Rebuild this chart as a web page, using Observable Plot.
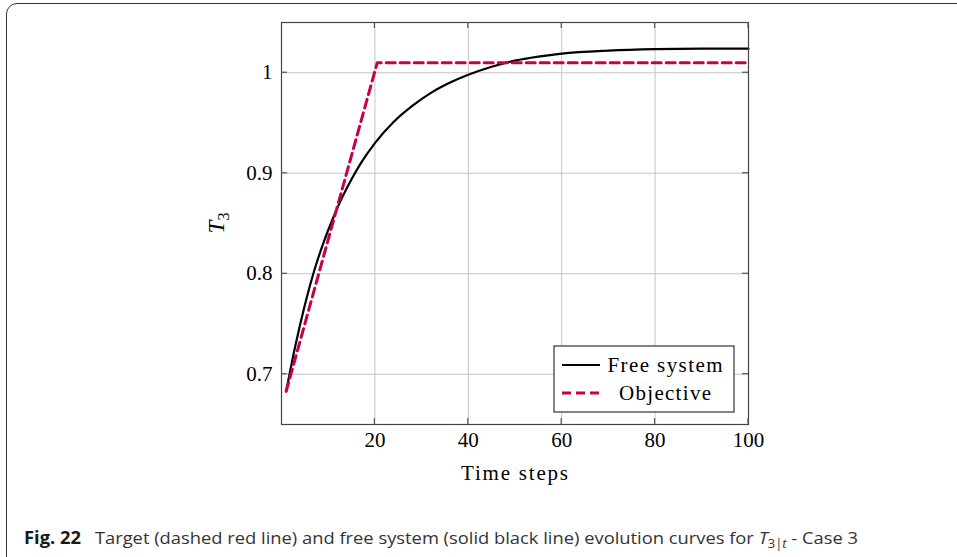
<!DOCTYPE html>
<html>
<head>
<meta charset="utf-8">
<script src="https://cdn.jsdelivr.net/npm/d3@7"></script>
<script src="https://cdn.jsdelivr.net/npm/@observablehq/plot@0.6"></script>
<style>
  html, body { margin: 0; padding: 0; background: #fff; }
  #wrap { position: relative; width: 957px; height: 557px; overflow: hidden; background: #fff; }
  #border { position: absolute; left: 6px; top: 3px; width: 1000px; height: 600px;
            border: 1.4px solid #333; border-radius: 11px; box-sizing: border-box; }
  #chart { position: absolute; left: 0; top: 0; }
  #caption { position: absolute; left: 24px; top: 526px; white-space: nowrap;
             font-family: "Open Sans", sans-serif; font-size: 17px; color: #333;
             transform-origin: 0 0; }
  #caption b { color: #1a1a1a; font-weight: 700; }
  #caption sub { font-size: 12px; vertical-align: -4px; }
</style>
</head>
<body>
<div id="wrap">
  <div id="border"></div>
  <div id="chart"></div>
  <div id="caption"><b>Fig. 22</b>&ensp;&nbsp;Target (dashed red line) and free system (solid black line) evolution curves for <i>T</i><sub>3|<i>t</i></sub> - Case 3</div>
</div>
<script>
// ---- data ----
const xTicks = [20, 40, 60, 80, 100];
const yTicks = [0.7, 0.8, 0.9, 1];
const xDomain = [0, 100];
const yDomain = [0.65, 1.05];

const freeSteps = [1, 3, 5, 7, 9, 11, 13, 15, 17, 20, 24, 28, 32, 36, 40, 45, 50, 55, 60, 70, 80, 90, 100];
const freeValues = [0.683, 0.729, 0.769, 0.803, 0.831, 0.855, 0.876, 0.894, 0.910, 0.930, 0.951, 0.967, 0.980, 0.990, 0.998, 1.006, 1.012, 1.016, 1.019, 1.022, 1.0235, 1.024, 1.024];

const objSteps = [1, 20.5, 100];
const objValues = [0.683, 1.01, 1.01];

const seriesNames = ["Free system", "Objective"];
const seriesColors = ["#000000", "#c8004b"];

(function () {
const free = freeSteps.map((t, i) => ({t, v: freeValues[i]}));
const objective = objSteps.map((t, i) => ({t, v: objValues[i]}));

const plot = Plot.plot({
  width: 957,
  height: 490,
  marginLeft: 281,
  marginRight: 209,
  marginTop: 22,
  marginBottom: 66,
  x: {domain: xDomain},
  y: {domain: yDomain},
  style: {fontFamily: "'Liberation Serif', serif", fontSize: "21px", color: "#000", background: "transparent"},
  marks: [
    Plot.gridX(xTicks, {stroke: "#c4c4c4", strokeOpacity: 1, strokeWidth: 1}),
    Plot.gridY(yTicks, {stroke: "#c4c4c4", strokeOpacity: 1, strokeWidth: 1}),
    Plot.axisX(xTicks, {tickSize: 0, tickPadding: 8, label: null}),
    Plot.axisY(yTicks, {tickSize: 0, tickPadding: 9, label: null, tickFormat: d => d === 1 ? "1" : d.toFixed(1)}),
    Plot.line(free, {x: "t", y: "v", curve: "monotone-x", stroke: seriesColors[0], strokeWidth: 2.2}),
    Plot.line(objective, {x: "t", y: "v", stroke: seriesColors[1], strokeWidth: 3, strokeDasharray: "9,5"}),
    Plot.frame({stroke: "#444", strokeWidth: 1.2})
  ]
});
document.getElementById("chart").appendChild(plot);

const svg = d3.select(plot);
const sx = plot.scale("x"), sy = plot.scale("y");
const fLeft = sx.apply(xDomain[0]), fRight = sx.apply(xDomain[1]);
const fTop = sy.apply(yDomain[1]), fBottom = sy.apply(yDomain[0]);

// inward tick marks on all four sides
const tg = svg.append("g").attr("stroke", "#555").attr("stroke-width", 1.2);
for (const t of xTicks) {
  const x = sx.apply(t);
  tg.append("line").attr("x1", x).attr("x2", x).attr("y1", fBottom).attr("y2", fBottom - 6);
  tg.append("line").attr("x1", x).attr("x2", x).attr("y1", fTop).attr("y2", fTop + 6);
}
for (const t of yTicks) {
  const y = sy.apply(t);
  tg.append("line").attr("x1", fLeft).attr("x2", fLeft + 6).attr("y1", y).attr("y2", y);
  tg.append("line").attr("x1", fRight).attr("x2", fRight - 6).attr("y1", y).attr("y2", y);
}

// axis labels
svg.append("text")
  .attr("x", (fLeft + fRight) / 2).attr("y", fBottom + 56)
  .attr("text-anchor", "middle")
  .attr("font-family", "'Liberation Serif', serif").attr("font-size", 21)
  .attr("textLength", 107).attr("lengthAdjust", "spacing")
  .text("Time steps");

const yl = svg.append("text")
  .attr("transform", `translate(${fLeft - 57},${(fTop + fBottom) / 2}) rotate(-90)`)
  .attr("text-anchor", "middle")
  .attr("font-family", "'Liberation Serif', serif").attr("font-size", 23);
yl.append("tspan").attr("font-style", "italic").text("T");
yl.append("tspan").attr("font-size", 16).attr("dy", 5).text("3");

// legend
const lg = svg.append("g");
const lx0 = fRight - 194, lx1 = fRight - 14, ly0 = fBottom - 78, ly1 = fBottom - 12;
lg.append("rect").attr("x", lx0).attr("y", ly0).attr("width", lx1 - lx0).attr("height", ly1 - ly0)
  .attr("fill", "#fff").attr("stroke", "#333").attr("stroke-width", 1.2);
const rows = [
  {name: seriesNames[0], color: seriesColors[0], dash: null, w: 2.2, len: 115},
  {name: seriesNames[1], color: seriesColors[1], dash: "9,5", w: 3, len: 92}
];
rows.forEach((r, i) => {
  const y = ly0 + 19 + i * 28;
  lg.append("line").attr("x1", lx0 + 8).attr("x2", lx0 + 46).attr("y1", y).attr("y2", y)
    .attr("stroke", r.color).attr("stroke-width", r.w).attr("stroke-dasharray", r.dash);
  lg.append("text").attr("x", lx0 + 111).attr("y", y + 7).attr("text-anchor", "middle")
    .attr("font-family", "'Liberation Serif', serif").attr("font-size", 21)
    .attr("textLength", r.len).attr("lengthAdjust", "spacing")
    .text(r.name);
});

// caption width fit
const cap = document.getElementById("caption");
const w = cap.getBoundingClientRect().width;
cap.style.transform = `scaleX(${834 / w})`;
})();
</script>
</body>
</html>
